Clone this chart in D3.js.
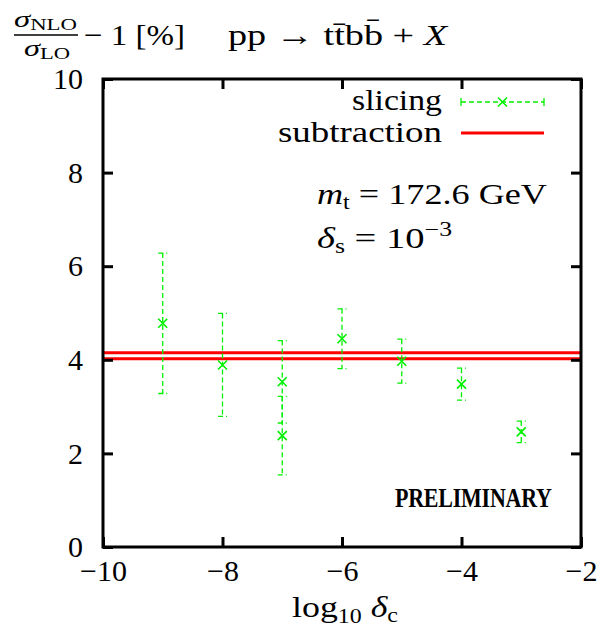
<!DOCTYPE html>
<html>
<head>
<meta charset="utf-8">
<script src="https://cdn.jsdelivr.net/npm/d3@7"></script>
<style>
  html, body { margin: 0; padding: 0; background: #fff; }
  svg text { font-family: "Liberation Serif", "DejaVu Serif", serif !important; fill: #000; }
</style>
</head>
<body>
<svg id="chart" width="603" height="641"></svg>
<script>
// log10 of the collinear cut and the slicing results (NLO correction in %)
const logDeltaC = [-9, -8, -7, -7, -6, -5, -4, -3];
const slicing = [4.78, 3.89, 3.53, 2.38, 4.45, 3.97, 3.48, 2.46];
const slicingErr = [1.50, 1.10, 0.88, 0.84, 0.64, 0.47, 0.34, 0.23];

// subtraction result: central value and its uncertainty
const subtraction = [4.085, 0.065];

const xTicks = [-10, -8, -6, -4, -2];
const yTicks = [0, 2, 4, 6, 8, 10];

const svg = d3.select("#chart");
const L = 103, R = 581, T = 79, B = 547;

const x = d3.scaleLinear().domain([-10, -2]).range([L, R]);
const y = d3.scaleLinear().domain([0, 10]).range([B, T]);

const green = "#00f000";
const red = "#ff0000";
const fs = 30, sub = 20;

// subtraction band edges
const bandEdges = [subtraction[0] + subtraction[1], subtraction[0] - subtraction[1]];
svg.append("g").selectAll("line").data(bandEdges).join("line")
  .attr("x1", x(-10)).attr("x2", x(-2))
  .attr("y1", d => y(d)).attr("y2", d => y(d))
  .attr("stroke", red).attr("stroke-width", 3);

// slicing points with error bars
const pts = logDeltaC.map((c, i) => ({ c, v: slicing[i], e: slicingErr[i] }));
const capW = 9, dash = "5,3";
const g = svg.append("g").attr("stroke", green).attr("fill", "none").attr("stroke-width", 1.3);
g.selectAll(".bar").data(pts).join("line").attr("class", "bar")
  .attr("x1", d => x(d.c)).attr("x2", d => x(d.c))
  .attr("y1", d => y(d.v + d.e)).attr("y2", d => y(d.v - d.e))
  .attr("stroke-dasharray", dash);
g.selectAll(".capT").data(pts).join("line").attr("class", "capT")
  .attr("x1", d => x(d.c) - capW / 2).attr("x2", d => x(d.c) + capW / 2)
  .attr("y1", d => y(d.v + d.e)).attr("y2", d => y(d.v + d.e))
  .attr("stroke-dasharray", dash);
g.selectAll(".capB").data(pts).join("line").attr("class", "capB")
  .attr("x1", d => x(d.c) - capW / 2).attr("x2", d => x(d.c) + capW / 2)
  .attr("y1", d => y(d.v - d.e)).attr("y2", d => y(d.v - d.e))
  .attr("stroke-dasharray", dash);
const m = 4.5;
g.selectAll(".mark").data(pts).join("path").attr("class", "mark")
  .attr("stroke-width", 1.6)
  .attr("d", d => {
    const cx = x(d.c), cy = y(d.v);
    return `M${cx - m},${cy - m}L${cx + m},${cy + m}M${cx - m},${cy + m}L${cx + m},${cy - m}`;
  });

// axes with inward ticks, mirrored on top and right
function styleAxis(sel) {
  sel.select(".domain").remove();
  sel.selectAll(".tick line").attr("stroke", "#000").attr("stroke-width", 3);
  sel.selectAll(".tick text").attr("font-size", fs);
}
svg.append("g").attr("transform", `translate(0,${B})`)
  .call(d3.axisBottom(x).tickValues(xTicks).tickSize(-10).tickPadding(13)
    .tickFormat(d => d < 0 ? "\u2212" + Math.abs(d) : d))
  .call(styleAxis)
  .call(s => s.selectAll(".tick text").attr("dy", "0.71em"));
svg.append("g").attr("transform", `translate(0,${T})`)
  .call(d3.axisTop(x).tickValues(xTicks).tickSize(-10).tickFormat(""))
  .call(styleAxis);
svg.append("g").attr("transform", `translate(${L},0)`)
  .call(d3.axisLeft(y).tickValues(yTicks).tickSize(-10).tickPadding(20))
  .call(styleAxis);
svg.append("g").attr("transform", `translate(${R},0)`)
  .call(d3.axisRight(y).tickValues(yTicks).tickSize(-10).tickFormat(""))
  .call(styleAxis);

// plot frame
svg.append("rect").attr("x", L).attr("y", T).attr("width", R - L).attr("height", B - T)
  .attr("fill", "none").attr("stroke", "#000").attr("stroke-width", 3);

// legend
const lx1 = 461, lx2 = 544, ly1 = 102, ly2 = 133;
svg.append("text").attr("x", 352).attr("y", ly1 + 8).attr("font-size", fs)
  .attr("textLength", 90).attr("lengthAdjust", "spacingAndGlyphs").text("slicing");
const lg = svg.append("g").attr("stroke", green).attr("stroke-width", 1.3).attr("fill", "none");
lg.append("line").attr("x1", lx1).attr("x2", lx2).attr("y1", ly1).attr("y2", ly1)
  .attr("stroke-dasharray", dash);
lg.append("line").attr("x1", lx1).attr("x2", lx1).attr("y1", ly1 - 4).attr("y2", ly1 + 4);
lg.append("line").attr("x1", lx2).attr("x2", lx2).attr("y1", ly1 - 4).attr("y2", ly1 + 4);
const mx = (lx1 + lx2) / 2;
lg.append("path").attr("stroke-width", 1.6)
  .attr("d", `M${mx - m},${ly1 - m}L${mx + m},${ly1 + m}M${mx - m},${ly1 + m}L${mx + m},${ly1 - m}`);
svg.append("text").attr("x", 278).attr("y", ly2 + 9).attr("font-size", fs)
  .attr("textLength", 164).attr("lengthAdjust", "spacingAndGlyphs").text("subtraction");
svg.append("line").attr("x1", lx1).attr("x2", lx2).attr("y1", ly2).attr("y2", ly2)
  .attr("stroke", red).attr("stroke-width", 3);

// parameter labels
const t1 = svg.append("text").attr("x", 317).attr("y", 204).attr("font-size", fs)
  .attr("textLength", 230).attr("lengthAdjust", "spacingAndGlyphs");
t1.append("tspan").attr("font-style", "italic").text("m");
t1.append("tspan").attr("font-size", sub).attr("dy", 5).text("t");
t1.append("tspan").attr("dy", -5).text(" = 172.6 GeV");
const t2 = svg.append("text").attr("x", 317).attr("y", 248).attr("font-size", fs)
  .attr("textLength", 135).attr("lengthAdjust", "spacingAndGlyphs");
t2.append("tspan").attr("font-style", "italic").text("\u03b4");
t2.append("tspan").attr("font-size", sub).attr("dy", 5).text("s");
t2.append("tspan").attr("dy", -5).text(" = 10");
t2.append("tspan").attr("font-size", sub).attr("dy", -12).text("\u22123");

// watermark, slightly stretched vertically
svg.append("text").attr("transform", "translate(395,507) scale(1,1.2)")
  .attr("font-size", 22).attr("font-weight", "bold")
  .attr("textLength", 157).attr("lengthAdjust", "spacing")
  .text("PRELIMINARY");

// axis title
const xl = svg.append("text").attr("x", 292).attr("y", 617).attr("font-size", fs)
  .attr("textLength", 106).attr("lengthAdjust", "spacingAndGlyphs");
xl.append("tspan").text("log");
xl.append("tspan").attr("font-size", sub).attr("dy", 6).text("10");
xl.append("tspan").attr("dy", -6).attr("font-style", "italic").text(" \u03b4");
xl.append("tspan").attr("font-size", sub).attr("dy", 5).text("c");

// y-axis title: (sigma_NLO / sigma_LO) - 1 [%]
const num = svg.append("text").attr("x", 14).attr("y", 27).attr("font-size", 23)
  .attr("textLength", 63).attr("lengthAdjust", "spacingAndGlyphs");
num.append("tspan").attr("font-style", "italic").text("\u03c3");
num.append("tspan").attr("font-size", 16).attr("dy", 3).text("NLO");
svg.append("line").attr("x1", 14).attr("x2", 78).attr("y1", 35).attr("y2", 35)
  .attr("stroke", "#000").attr("stroke-width", 1.3);
const den = svg.append("text").attr("x", 24).attr("y", 56).attr("font-size", 23)
  .attr("textLength", 46).attr("lengthAdjust", "spacingAndGlyphs");
den.append("tspan").attr("font-style", "italic").text("\u03c3");
den.append("tspan").attr("font-size", 16).attr("dy", 3).text("LO");
svg.append("text").attr("x", 84).attr("y", 45).attr("font-size", fs)
  .attr("textLength", 101).attr("lengthAdjust", "spacingAndGlyphs").text("\u2212 1 [%]");

// process label
const pr = svg.append("text").attr("x", 228).attr("y", 45).attr("font-size", fs)
  .attr("textLength", 219).attr("lengthAdjust", "spacingAndGlyphs");
pr.append("tspan").text("pp \u2192 tt\u0304bb\u0304 + ");
pr.append("tspan").attr("font-style", "italic").text("X");
</script>
</body>
</html>
